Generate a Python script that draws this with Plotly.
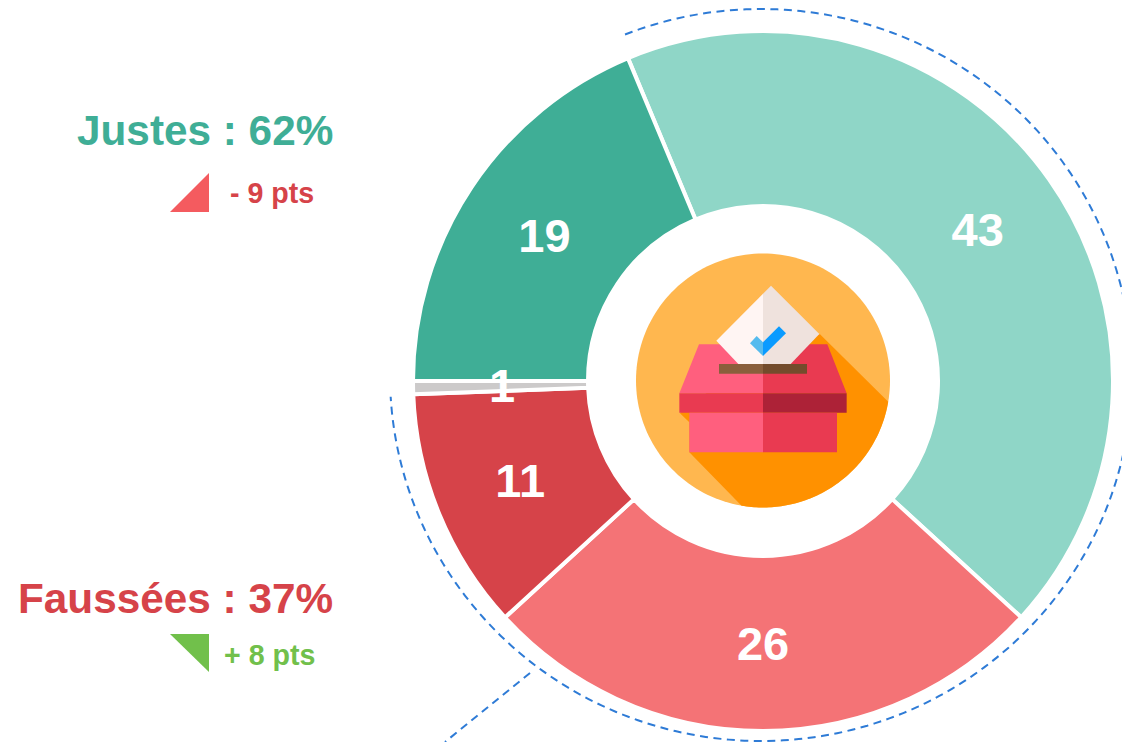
import math
import plotly.graph_objects as go

W, H = 1122, 742
categories = ["Justes A", "Fausses A", "Fausses B", "Autre", "Justes B"]
values = [43.1, 26.4, 11.2, 0.6, 18.7]
value_labels = ["43", "26", "11", "", "19"]
slice_colors = ["#8FD6C7", "#F47376", "#D64349", "#CCCACA", "#3FAE96"]


def px(x, y):
    return x / W, 1 - y / H


def path(points, close=True):
    pts = [px(*p) for p in points]
    s = "M" + " L".join(f"{a:.5f},{b:.5f}" for a, b in pts)
    return s + (" Z" if close else "")


def shp(points, color):
    return dict(type="path", xref="paper", yref="paper", path=path(points),
                fillcolor=color, line=dict(width=0), layer="above")


def z(x, y):
    return 630 + x / 3, 250 + y / 3


def poly(color, *pts):
    return shp([z(*p) for p in pts], color)


def arc(cx, cy, rx, ry, a0, a1, n=240):
    return [(cx + rx * math.sin(math.radians(a0 + (a1 - a0) * i / n)),
             cy - ry * math.cos(math.radians(a0 + (a1 - a0) * i / n))) for i in range(n + 1)]


fig = go.Figure(go.Pie(
    labels=categories, values=values, text=value_labels, textinfo="text",
    sort=False, direction="clockwise", rotation=-22.7, hole=0.5,
    marker=dict(colors=slice_colors, line=dict(color="#FFFFFF", width=4)),
    textposition="inside", insidetextorientation="horizontal",
    textfont=dict(family="Liberation Sans", size=47, color="#FFFFFF", weight="bold"),
    domain=dict(x=[413 / W, 1113 / W], y=[11 / H, 711 / H]),
    showlegend=False, hoverinfo="label+value",
))

ICX, ICY, IR = 763, 380.5, 127
a_start = math.degrees(math.atan2(z(775, 455)[0] - ICX, ICY - z(775, 455)[1]))
a_end = math.degrees(math.atan2(z(335, 765)[0] - ICX, ICY - z(335, 765)[1])) % 360
shadow = [z(570, 253)] + arc(ICX, ICY, IR, IR, a_start, a_end, 80) + [z(178, 607), z(178, 517), z(150, 490), z(399, 300)]

DASH = dict(color="#2E7BD6", width=2, dash="8px,5.5px")
shapes = [
    dict(type="path", xref="paper", yref="paper", path=path(arc(761, 375, 371, 366, -21.5, 266.6), close=False),
         line=DASH, fillcolor="rgba(0,0,0,0)", layer="above"),
    dict(type="path", xref="paper", yref="paper", path=path([(530, 673), (445, 742)], close=False),
         line=DASH, layer="above"),
    shp(arc(ICX, ICY, IR, IR, 0, 360, 180), "#FFB74F"),
    shp(shadow, "#FF9100"),
    poly("#FF5F7E", (207, 283), (399, 283), (399, 430), (148, 430)),
    poly("#E93A51", (399, 283), (592, 283), (650, 430), (399, 430)),
    poly("#FFF5F3", (399, 131), (399, 342), (325, 342), (259, 272)),
    poly("#EFE2DD", (399, 131), (423, 107), (568, 252), (482, 342), (399, 342)),
    poly("#55BBEE", (360, 280), (380, 258), (399, 277), (399, 318)),
    poly("#0A9BFF", (399, 277), (447, 229), (468, 250), (399, 318)),
    poly("#8A5F3C", (267, 342), (399, 342), (399, 371), (267, 371)),
    poly("#734C2C", (399, 342), (531, 342), (531, 371), (399, 371)),
    poly("#E93A51", (148, 430), (399, 430), (399, 488), (148, 488)),
    poly("#AD2237", (399, 430), (650, 430), (650, 488), (399, 488)),
    poly("#FF5F7E", (178, 488), (399, 488), (399, 607), (178, 607)),
    poly("#E93A51", (399, 488), (621, 488), (621, 607), (399, 607)),
    shp([(170, 212), (209, 173), (209, 212)], "#F45B5F"),
    shp([(170, 634), (209, 634), (209, 672)], "#71C04B"),
]


def note(x, y, text, color, size, anchor="right"):
    a, b = px(x, y)
    return dict(x=a, y=b, xref="paper", yref="paper", text=f"<b>{text}</b>", showarrow=False,
                xanchor=anchor, yanchor="middle",
                font=dict(family="Liberation Sans", size=size, color=color))


annotations = [
    note(335, 130, "Justes : 62%", "#3FAE96", 42.3),
    note(335, 598, "Faussées : 37%", "#D64349", 42.3),
    note(316, 193, "- 9 pts", "#D64349", 28.6),
    note(317, 655, "+ 8 pts", "#71C04B", 28.6),
    note(502, 385, "1", "#FFFFFF", 47, "center"),
]

fig.update_layout(width=W, height=H, margin=dict(l=0, r=0, t=0, b=0), paper_bgcolor="#FFFFFF",
                  shapes=shapes, annotations=annotations)
fig.write_html("out.html", config={"displayModeBar": False},
               post_script="document.body.style.margin='0';document.body.style.overflow='hidden';")
